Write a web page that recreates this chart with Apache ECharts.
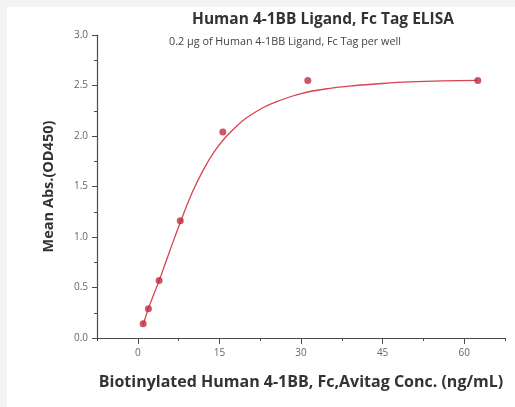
<!DOCTYPE html>
<html>
<head>
<meta charset="utf-8">
<script src="https://cdn.jsdelivr.net/npm/echarts@6/dist/echarts.min.js"></script>
<style>
  html, body { margin: 0; padding: 0; background: #f4f4f4; }
  #card { position: absolute; left: 7px; top: 7px; width: 508px; height: 400px; background: #fff; }
  #el { position: absolute; left: 0; top: 0; width: 515px; height: 407px; }
</style>
</head>
<body>
<div id="card"></div>
<div id="el"></div>
<script>
// measured points (conc ng/mL, OD450)
const conc = [0.98, 1.95, 3.91, 7.81, 15.63, 31.25, 62.5];
const od = [0.14, 0.29, 0.57, 1.16, 2.04, 2.55, 2.55];

// fitted curve
const fitX = [0.98, 2, 3, 4, 5, 6, 8, 10, 12, 14, 16, 18, 20, 23, 26, 30, 35, 40, 45, 50, 56, 62.5];
const fitY = [0.13, 0.30, 0.44, 0.58, 0.73, 0.88, 1.17, 1.44, 1.66, 1.84, 1.98, 2.09, 2.18, 2.28, 2.35, 2.42, 2.47, 2.50, 2.52, 2.535, 2.545, 2.55];

const xLabels = [0, 15, 30, 45, 60];
const xMinor = [-7.5, 0, 7.5, 15, 22.5, 30, 37.5, 45, 52.5, 60, 67.5];

const axisCol = '#4a4a4a';
const labelCol = '#666';

let myChart = echarts.init(document.getElementById('el'));

let option = {
  animation: false,
  title: [
    {
      text: 'Human 4-1BB Ligand, Fc Tag ELISA',
      left: 318, top: 7, textAlign: 'center',
      textStyle: { fontFamily: 'Open Sans', fontSize: 15.5, fontWeight: 'bold', color: '#333' }
    },
    {
      text: '0.2 μg of Human 4-1BB Ligand, Fc Tag per well',
      left: 280, top: 31, textAlign: 'center',
      textStyle: { fontFamily: 'Open Sans', fontSize: 10.8, fontWeight: 'normal', color: '#444' }
    }
  ],
  grid: { left: 97, right: 10, top: 35, bottom: 69 },
  xAxis: [
    {
      type: 'value', min: -7.5, max: 67.5, interval: 7.5,
      name: 'Biotinylated Human 4-1BB, Fc,Avitag Conc. (ng/mL)',
      nameLocation: 'middle', nameGap: 36,
      nameTextStyle: { fontFamily: 'Open Sans', fontSize: 16, fontWeight: 'bold', color: '#333' },
      splitLine: { show: false },
      axisLine: { show: true, onZero: false, lineStyle: { color: axisCol, width: 1.2 } },
      axisTick: { show: true, customValues: xMinor, length: 3, lineStyle: { color: axisCol } },
      axisLabel: { customValues: xLabels, fontFamily: 'Open Sans', fontSize: 10, color: labelCol, margin: 10 }
    },
    {
      type: 'value', min: -7.5, max: 67.5, position: 'bottom',
      splitLine: { show: false },
      axisLine: { show: false, onZero: false },
      axisTick: { show: true, customValues: xLabels, length: 6, lineStyle: { color: axisCol } },
      axisLabel: { show: false }
    }
  ],
  yAxis: {
    type: 'value', min: 0, max: 3, interval: 0.5,
    name: 'Mean Abs.(OD450)',
    nameLocation: 'middle', nameGap: 41,
    nameTextStyle: { fontFamily: 'Open Sans', fontSize: 14.5, fontWeight: 'bold', color: '#333' },
    splitLine: { show: false },
    axisLine: { show: true, onZero: false, lineStyle: { color: axisCol, width: 1.2 } },
    axisTick: { show: true, length: 5, lineStyle: { color: axisCol } },
    minorTick: { show: true, splitNumber: 2, length: 3, lineStyle: { color: axisCol } },
    axisLabel: {
      fontFamily: 'Open Sans', fontSize: 10, color: labelCol, margin: 9,
      formatter: (v) => v.toFixed(1)
    }
  },
  series: [
    {
      type: 'line',
      data: fitX.map((x, i) => [x, fitY[i]]),
      smooth: 0.4,
      showSymbol: false,
      lineStyle: { color: '#d8434f', width: 1.3 },
      z: 2
    },
    {
      type: 'scatter',
      data: conc.map((x, i) => [x, od[i]]),
      symbol: 'circle',
      symbolSize: 7,
      itemStyle: { color: '#c02a3e' },
      z: 3
    }
  ]
};

option && myChart.setOption(option);
</script>
</body>
</html>
